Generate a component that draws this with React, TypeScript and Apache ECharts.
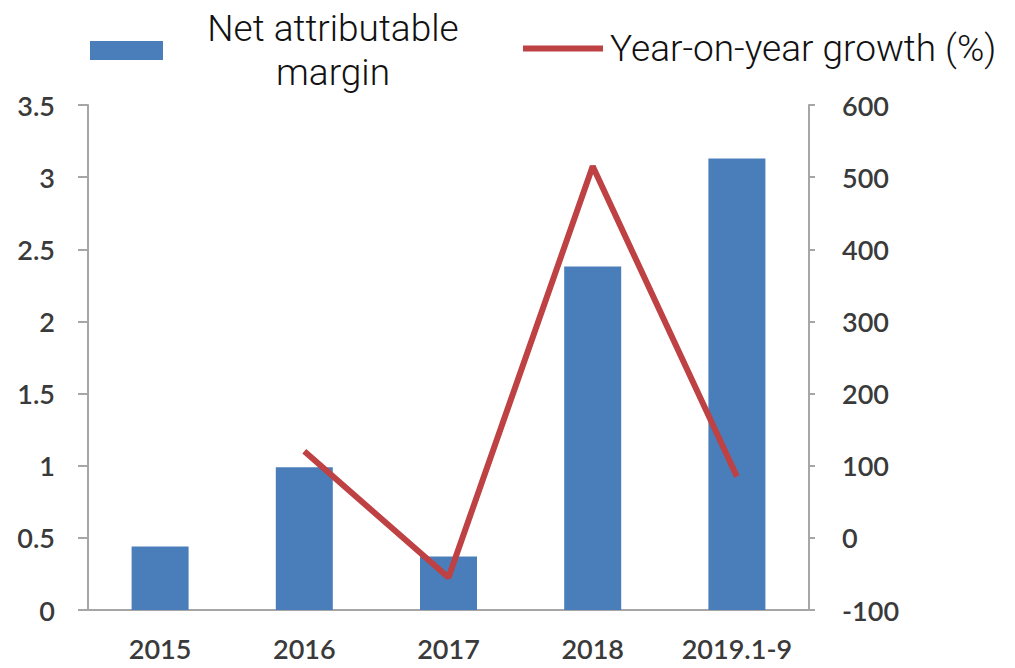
import React, { useEffect, useRef } from "react";
import * as echarts from "echarts";

const categories = ["2015", "2016", "2017", "2018", "2019.1-9"];
const marginValues = [0.44, 0.99, 0.37, 2.38, 3.13];
const growthValues: (number | null)[] = [null, 120, -55, 515, 85];
const leftTicks = { min: 0, max: 3.5, interval: 0.5 };
const rightTicks = { min: -100, max: 600, interval: 100 };
const barName = "Net attributable margin";
const lineName = "Year-on-year growth (%)";

const BAR_COLOR = "#4a7ebb";
const LINE_COLOR = "#be4143";
const AXIS_COLOR = "#a6a6a6";
const LABEL_FONT = "Lato";
const LEGEND_FONT = "Roboto";

export default function App() {
  const ref = useRef<HTMLDivElement>(null);
  useEffect(() => {
    if (!ref.current) return;
    const chart = echarts.init(ref.current, null, { renderer: "svg" });
    const axisLabel = {
      color: "#3a3a3a",
      fontSize: 27,
      fontFamily: LABEL_FONT,
      fontWeight: 600,
    };
    chart.setOption({
      animation: false,
      backgroundColor: "#ffffff",
      grid: { left: 88, right: 206, top: 105, bottom: 58, containLabel: false },
      legend: [
        {
          left: 85,
          top: 5,
          selectedMode: false,
          itemWidth: 73,
          itemHeight: 19,
          data: [{ name: barName, icon: "rect", itemStyle: { color: BAR_COLOR } }],
          formatter: () => "{a|Net attributable}\n{a|margin}",
          textStyle: {
            rich: {
              a: {
                width: 330,
                align: "center",
                fontSize: 37,
                fontWeight: 300,
                lineHeight: 44,
                fontFamily: LEGEND_FONT,
                color: "#111",
              },
            },
          },
        },
        {
          left: 518,
          top: 25,
          selectedMode: false,
          itemWidth: 80,
          itemHeight: 6,
          data: [{ name: lineName, icon: "rect", itemStyle: { color: LINE_COLOR } }],
          formatter: (n: string) => "{b|" + n + "}",
          textStyle: {
            rich: {
              b: {
                fontSize: 37,
                fontWeight: 300,
                lineHeight: 44,
                fontFamily: LEGEND_FONT,
                color: "#111",
                padding: [0, 0, 0, 2],
              },
            },
          },
        },
      ],
      xAxis: {
        type: "category",
        data: categories,
        axisLine: { lineStyle: { color: AXIS_COLOR, width: 2 } },
        axisTick: { length: 10, lineStyle: { color: AXIS_COLOR, width: 2 } },
        axisLabel: { ...axisLabel, margin: 25, interval: 0, hideOverlap: false },
      },
      yAxis: [
        {
          type: "value",
          position: "left",
          ...leftTicks,
          splitLine: { show: false },
          axisLine: { show: true, lineStyle: { color: AXIS_COLOR, width: 2 } },
          axisTick: { show: true, length: 10, lineStyle: { color: AXIS_COLOR, width: 2 } },
          axisLabel: { ...axisLabel, margin: 33 },
        },
        {
          type: "value",
          position: "right",
          ...rightTicks,
          splitLine: { show: false },
          axisLine: { show: true, lineStyle: { color: AXIS_COLOR, width: 2 } },
          axisTick: { show: true, length: 6, lineStyle: { color: AXIS_COLOR, width: 2 } },
          axisLabel: { ...axisLabel, margin: 33 },
        },
      ],
      series: [
        {
          name: barName,
          type: "bar",
          yAxisIndex: 0,
          data: marginValues,
          barWidth: 57,
          itemStyle: { color: BAR_COLOR },
        },
        {
          name: lineName,
          type: "line",
          yAxisIndex: 1,
          data: growthValues,
          showSymbol: false,
          symbol: "none",
          lineStyle: { color: LINE_COLOR, width: 6 },
          itemStyle: { color: LINE_COLOR },
        },
      ],
    });
    return () => chart.dispose();
  }, []);
  return <div ref={ref} style={{ width: 1015, height: 668, margin: -8 }} />;
}
